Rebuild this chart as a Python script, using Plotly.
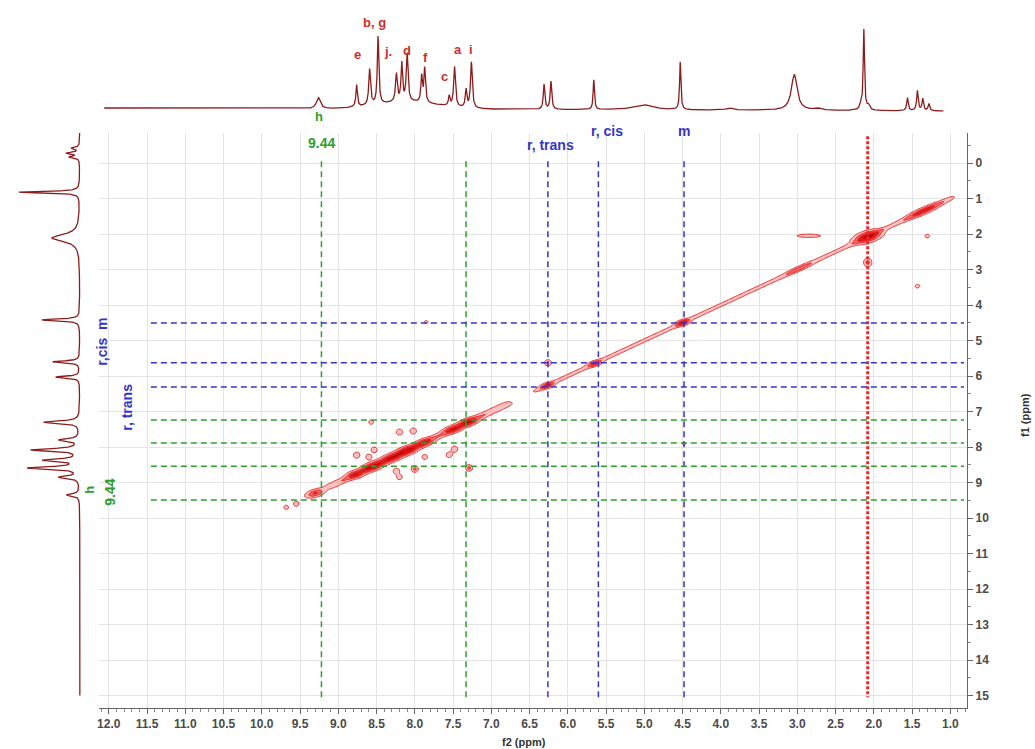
import numpy as np
import plotly.graph_objects as go

W, H = 1035, 749

# ---------------- 1D proton spectrum on top (f2) ----------------
top_ppm = [9.26, 8.76, 8.59, 8.48, 8.24, 8.17, 8.10, 7.91, 7.87, 7.55, 7.48, 7.33, 7.26,
           6.31, 6.22, 5.66, 5.00, 4.53, 3.89, 3.04, 2.73, 2.17, 2.13, 2.07,
           1.56, 1.43, 1.36, 1.28]
top_int = [11, 22, 36, 68, 28, 38, 48, 26, 34, 10, 40, 18, 46,
           25, 28, 30, 5, 48, 2, 36, 2, 5, 80, 5,
           13, 20, 12, 7]
top_hw = [0.030, 0.012, 0.014, 0.012, 0.014, 0.012, 0.014, 0.012, 0.012, 0.012, 0.014, 0.012, 0.014,
          0.012, 0.012, 0.010, 0.15, 0.010, 0.05, 0.045, 0.05, 0.02, 0.010, 0.02,
          0.012, 0.012, 0.012, 0.012]
top_hump = [8.10, 7.0, 0.40]          # broad aromatic envelope: centre, height, sigma
top_span = [12.06, 1.09]              # ppm range of the trace
top_base = [0.0, -3.0]                # baseline at left / right end

# ---------------- 1D spectrum on the left (f1 projection) ----------------
left_pos = [-0.42, -0.28, -0.17, 0.82, 2.11, 4.42, 5.60, 6.03, 7.30, 7.80, 8.08, 8.37, 8.59, 8.85, 9.35]
left_int = [8, 13, 10, 61, 28, 38, 27, 24, 36, 20, 48, 35, 51, 20, 13]
left_hw = [0.03, 0.03, 0.03, 0.025, 0.12, 0.03, 0.03, 0.03, 0.04, 0.04, 0.04, 0.04, 0.04, 0.04, 0.04]
left_span = [-0.85, 15.0]

# ---------------- 2D COSY contours ----------------
band_lo = [6.75, 2.20, 0.95]
band_hi = [9.15, 6.45, 2.00]
band_amp = [0.8, 0.55, 0.55]
band_sv = [0.065, 0.045, 0.045]

dpk_pos = [9.30, 8.78, 8.55, 8.30, 8.10, 7.88, 7.50, 7.30, 6.27, 5.65, 4.50, 2.98, 2.08, 1.35]
dpk_amp = [1.4, 1.1, 1.6, 1.3, 1.6, 1.2, 1.2, 1.4, 1.3, 1.2, 1.6, 0.7, 2.2, 1.2]
dpk_su = [0.07, 0.06, 0.09, 0.08, 0.08, 0.07, 0.07, 0.07, 0.05, 0.05, 0.05, 0.12, 0.10, 0.15]
dpk_sv = [0.08, 0.09, 0.09, 0.09, 0.09, 0.08, 0.08, 0.08, 0.06, 0.06, 0.06, 0.05, 0.11, 0.07]

cx = [8.20, 8.02, 8.76, 8.60, 8.53, 8.24, 8.00, 8.20, 7.48, 7.55, 7.29, 7.87, 9.55, 9.68, 8.57,
      6.26, 2.08, 1.30, 1.43, 2.85, 7.85, 4.48]
cy = [7.58, 7.55, 8.23, 8.28, 8.08, 8.68, 8.62, 8.85, 8.06, 8.22, 8.59, 8.28, 9.60, 9.70, 7.30,
      5.63, 2.80, 2.06, 3.47, 2.05, 4.48, 7.90]
ca = [0.8, 0.8, 0.8, 0.7, 0.7, 0.8, 1.0, 0.6, 0.8, 0.7, 1.0, 0.6, 0.6, 0.5, 0.5,
      0.9, 1.0, 0.5, 0.5, 0.7, 0.45, 0.45]
csx = [0.03] * 16 + [0.035, 0.03, 0.03, 0.12, 0.025, 0.025]
csy = [0.06] * 16 + [0.08, 0.05, 0.05, 0.035, 0.05, 0.05]

t1_ppm = 2.08                 # t1-noise stripe
t1_range = [-0.75, 15.05]

# ---------------- guide lines ----------------
vert_green = [9.22, 7.33]
vert_blue = [6.26, 5.60, 4.48]
horiz_blue = [4.51, 5.63, 6.31]
horiz_green = [7.24, 7.89, 8.54, 9.49]
vert_range = [-0.05, 15.1]
horiz_range = [11.45, 0.82]

GREEN = "rgb(46,158,46)"
BLUE = "rgb(52,52,200)"
RED_LBL = "rgb(205,45,45)"
SPEC = "rgb(140,28,28)"

# ---------- build spectra ----------
tx = np.linspace(top_span[0], top_span[1], 5000)
ty = np.interp(tx, top_span[::-1], top_base[::-1])
for p, h, w in zip(top_ppm, top_int, top_hw):
    ty = ty + h / (1 + ((tx - p) / w) ** 2)
ty = ty + top_hump[1] * np.exp(-(tx - top_hump[0]) ** 2 / (2 * top_hump[2] ** 2))

ly = np.linspace(left_span[0], left_span[1], 5000)
lx = np.zeros_like(ly)
for p, h, w in zip(left_pos, left_int, left_hw):
    lx = lx + h / (1 + ((ly - p) / w) ** 2)

# ---------- build 2D field ----------
gx = np.arange(0.9, 10.0, 0.015)
gy = np.arange(-0.5, 10.3, 0.03)
X, Y = np.meshgrid(gx, gy)
U = (X + Y) / 2
V = Y - X
Z = np.zeros_like(X)
for lo, hi, a, sv in zip(band_lo, band_hi, band_amp, band_sv):
    Z += a * 0.5 * (np.tanh((U - lo) / 0.05) - np.tanh((U - hi) / 0.05)) * np.exp(-V ** 2 / (2 * sv ** 2))
for c, a, su, sv in zip(dpk_pos, dpk_amp, dpk_su, dpk_sv):
    Z += a * np.exp(-(U - c) ** 2 / (2 * su ** 2) - V ** 2 / (2 * sv ** 2))
for x0, y0, a, sx, sy in zip(cx, cy, ca, csx, csy):
    Z += a * np.exp(-(X - x0) ** 2 / (2 * sx ** 2) - (Y - y0) ** 2 / (2 * sy ** 2))
Z = Z.astype(np.float32)

fig = go.Figure()

fig.add_trace(go.Contour(
    x=gx, y=gy, z=Z, xaxis="x", yaxis="y",
    contours=dict(start=0.3, end=2.3, size=0.5, coloring="fill", showlines=True),
    line=dict(color="rgb(228,30,30)", width=0.9),
    colorscale=[[0, "rgba(255,255,255,0)"], [0.1, "rgba(255,255,255,0)"],
                [0.12, "rgba(255,150,150,0.5)"], [0.5, "rgba(240,70,70,0.75)"],
                [1, "rgb(200,0,0)"]],
    zmin=0, zmax=2.3, showscale=False, hoverinfo="skip"))

# t1 noise stripe
fig.add_trace(go.Scatter(x=[t1_ppm, t1_ppm], y=t1_range, mode="lines", xaxis="x", yaxis="y",
                         line=dict(color="rgb(235,40,40)", width=3, dash="3px,2px"), hoverinfo="skip"))


def vlines(vals):
    xs, ys = [], []
    for v in vals:
        xs += [v, v, None]
        ys += [vert_range[0], vert_range[1], None]
    return xs, ys


def hlines(vals):
    xs, ys = [], []
    for v in vals:
        xs += [horiz_range[0], horiz_range[1], None]
        ys += [v, v, None]
    return xs, ys


for fn, vals, col in [(vlines, vert_green, GREEN), (vlines, vert_blue, BLUE),
                      (hlines, horiz_blue, BLUE), (hlines, horiz_green, GREEN)]:
    xs, ys = fn(vals)
    fig.add_trace(go.Scatter(x=xs, y=ys, mode="lines", xaxis="x", yaxis="y",
                             line=dict(color=col, width=1.5, dash="6px,4px"), hoverinfo="skip"))

fig.add_trace(go.Scatter(x=tx, y=ty, mode="lines", xaxis="x2", yaxis="y2",
                         line=dict(color=SPEC, width=1.3), hoverinfo="skip"))
fig.add_trace(go.Scatter(x=lx, y=ly, mode="lines", xaxis="x3", yaxis="y3",
                         line=dict(color=SPEC, width=1.3), hoverinfo="skip"))


def P(px, py):
    return px / W, 1 - py / H


ann = []


def label(px, py, text, color, size=14, angle=0, bold=True):
    x, y = P(px, py)
    ann.append(dict(x=x, y=y, xref="paper", yref="paper", text=("<b>%s</b>" % text) if bold else text,
                    showarrow=False, textangle=angle, xanchor="center", yanchor="middle",
                    font=dict(family="Liberation Sans", size=size, color=color)))


# peak letters on the 1D spectrum
for px, py, t in [(373, 22, "b, g"), (356, 55, "e"), (387, 52, "j."), (406, 50, "d"),
                  (424, 57, "f"), (443, 76, "c"), (457, 49, "a"), (470, 49, "i")]:
    label(px, py, t, RED_LBL, 13)

label(318, 117, "h", GREEN, 13)
label(320, 143, "9.44", GREEN, 14)
label(550, 145, "r, trans", BLUE, 14)
label(606, 131, "r, cis", BLUE, 14)
label(683, 131, "m", BLUE, 14)

label(100, 342, "r,cis  m", BLUE, 14, -90)
label(125, 407, "r, trans", BLUE, 14, -90)
label(88, 490, "h", GREEN, 13, -90)
label(108, 492, "9.44", GREEN, 14, -90)

label(523, 742, "f2 (ppm)", "#333", 11)
label(1025, 415, "f1 (ppm)", "#333", 11, -90)

tickfont = dict(family="Liberation Sans", size=12, color="#4a4a4a", weight="bold")

fig.update_layout(
    width=W, height=H, margin=dict(l=0, r=0, t=0, b=0),
    paper_bgcolor="white", plot_bgcolor="white", showlegend=False,
    annotations=ann,
    xaxis=dict(domain=[97 / W, 967 / W], range=[12.13, 0.78], anchor="y",
               tick0=0, dtick=0.5, tickformat=".1f", ticks="outside", ticklen=5,
               tickcolor="#666", showline=True, linecolor="#666", linewidth=1,
               showgrid=True, gridcolor="#e4e4e4", gridwidth=1, zeroline=False,
               minor=dict(dtick=0.1, ticks="outside", ticklen=3, tickcolor="#888", showgrid=False),
               tickfont=tickfont),
    yaxis=dict(domain=[1 - 708 / H, 1 - 133 / H], range=[15.352, -0.845], anchor="x", side="right",
               tick0=0, dtick=1, ticks="outside", ticklen=5, tickcolor="#666",
               showline=True, linecolor="#666", linewidth=1,
               showgrid=True, gridcolor="#e4e4e4", gridwidth=1, zeroline=False,
               minor=dict(dtick=0.5, ticks="outside", ticklen=3, tickcolor="#888", showgrid=False),
               tickfont=tickfont),
    xaxis2=dict(domain=[97 / W, 967 / W], anchor="y2", matches="x", visible=False),
    yaxis2=dict(domain=[1 - 118 / H, 1 - 8 / H], range=[-10, 100], anchor="x2", visible=False),
    xaxis3=dict(domain=[5 / W, 95 / W], range=[73, -17], anchor="y3", visible=False),
    yaxis3=dict(domain=[1 - 708 / H, 1 - 133 / H], range=[15.352, -0.845], anchor="x3", visible=False),
)

fig.write_html("out.html")
